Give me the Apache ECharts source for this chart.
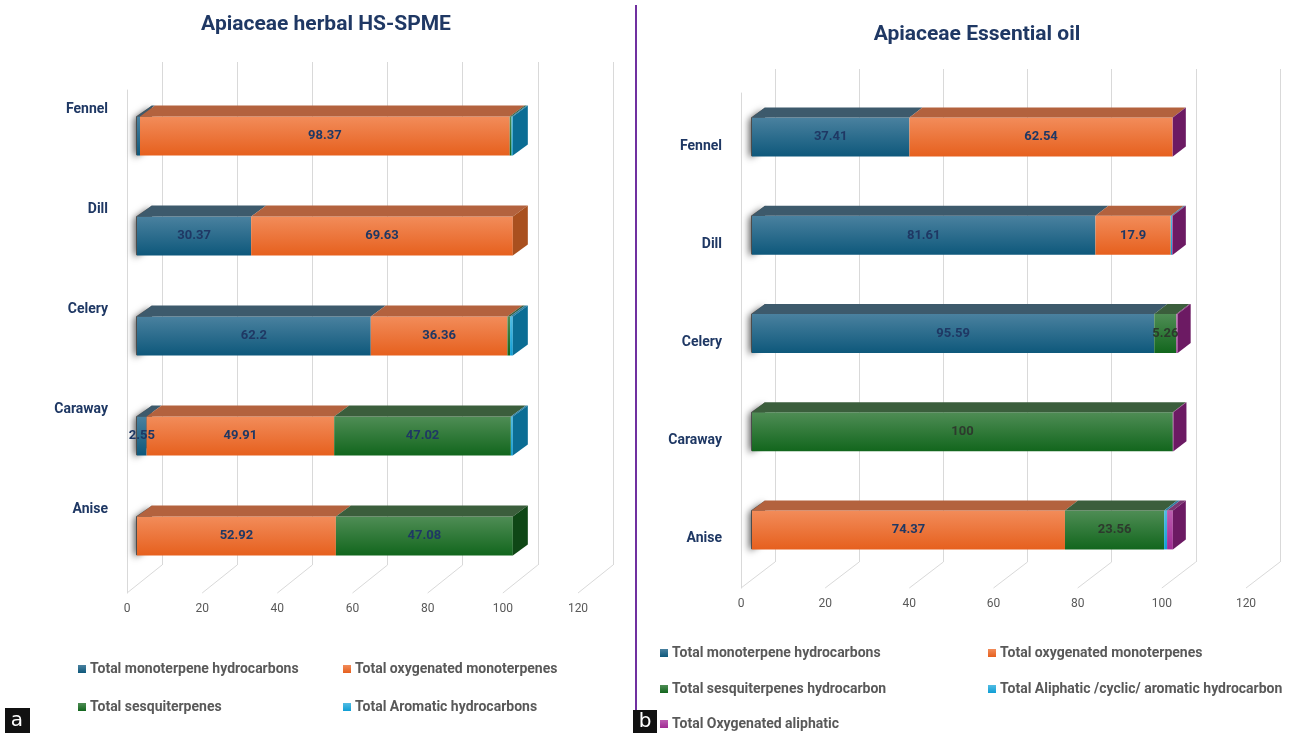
<!DOCTYPE html>
<html>
<head>
<meta charset="utf-8">
<script src="https://cdn.jsdelivr.net/npm/echarts@6/dist/echarts.min.js"></script>
<style>
  html, body { margin: 0; padding: 0; background: #fff; }
  #chart { width: 1310px; height: 733px; }
</style>
</head>
<body>
<div id="chart"></div>
<script>
  // categories and axis ticks (same for both panels)
  const categories = ['Fennel', 'Dill', 'Celery', 'Caraway', 'Anise']
  const xTicks = [0, 20, 40, 60, 80, 100, 120]

  // panel a: herbal HS-SPME
  const spmeNames = [
    'Total monoterpene hydrocarbons',
    'Total oxygenated monoterpenes',
    'Total sesquiterpenes',
    'Total Aromatic hydrocarbons',
  ]
  const spmeMono = [0.8, 30.37, 62.2, 2.55, 0]
  const spmeOxy = [98.37, 69.63, 36.36, 49.91, 52.92]
  const spmeSesq = [0.5, 0, 0.7, 47.02, 47.08]
  const spmeArom = [0.33, 0, 0.74, 0.52, 0]

  // panel b: essential oil
  const oilNames = [
    'Total monoterpene hydrocarbons',
    'Total oxygenated monoterpenes',
    'Total sesquiterpenes hydrocarbon',
    'Total Aliphatic /cyclic/ aromatic hydrocarbon',
    'Total Oxygenated aliphatic',
  ]
  const oilMono = [37.41, 81.61, 95.59, 0, 0]
  const oilOxy = [62.54, 17.9, 0, 0, 74.37]
  const oilSesq = [0, 0, 5.26, 100, 23.56]
  const oilAliph = [0, 0.3, 0, 0, 0.7]
  const oilOxAliph = [0.05, 0.19, 0.3, 0.15, 1.37]

  const shades = {
    blue: { light: '#4a819f', base: '#0e587b', top: '#3d5a6c', side: '#0c4a68' },
    orange: { light: '#f28c5a', base: '#e6601e', top: '#b3623e', side: '#a9501f' },
    green: { light: '#4f8d55', base: '#12661d', top: '#3b5e3c', side: '#0f4716' },
    cyan: { light: '#52bce3', base: '#0f9ed5', top: '#2f7fa0', side: '#0b6d94' },
    purple: { light: '#bb5db0', base: '#a02b93', top: '#7a3872', side: '#6c1a63' },
  }

  const navy = '#1f3864'
  const font = 'Roboto'

  const panels = [
    {
      title: 'Apiaceae herbal HS-SPME',
      titlePos: [321, 9],
      front: { left: 127, top: 90, width: 451, height: 503 },
      back: { left: 162, top: 62, width: 451, height: 503 },
      bars: { left: 137, top: 86, width: 451, height: 500 },
      depth: [15, -11],
      barH: 39,
      labelMargin: 29,
      // category name sits above the bar
      labelFormat: (v) => v + '\n \n \n ',
      names: spmeNames,
      values: [spmeMono, spmeOxy, spmeSesq, spmeArom],
      colors: ['blue', 'orange', 'green', 'cyan'],
      labelColors: [navy, navy, navy, navy],
      legendPos: [[78, 667], [343, 667], [78, 705], [343, 705]],
    },
    {
      title: 'Apiaceae Essential oil',
      titlePos: [972, 19],
      front: { left: 741, top: 93, width: 505, height: 495 },
      back: { left: 775, top: 69, width: 505, height: 493 },
      bars: { left: 752, top: 88, width: 505, height: 491 },
      depth: [13, -10],
      barH: 39,
      labelMargin: 30,
      // category name sits a little below the bar centre
      labelFormat: (v) => ' \n' + v,
      names: oilNames,
      values: [oilMono, oilOxy, oilSesq, oilAliph, oilOxAliph],
      colors: ['blue', 'orange', 'green', 'cyan', 'purple'],
      labelColors: [navy, navy, '#2d3a2d', navy, navy],
      legendPos: [[660, 651], [988, 651], [660, 687], [988, 687], [660, 722]],
    },
  ]

  const option = {
    animation: false,
    backgroundColor: '#fff',
    title: [],
    legend: [],
    grid: [],
    xAxis: [],
    yAxis: [],
    series: [],
    graphic: [
      { type: 'line', shape: { x1: 636, y1: 5, x2: 636, y2: 712 }, style: { stroke: '#7030a0', lineWidth: 2 } },
      { type: 'rect', shape: { x: 5, y: 708, width: 25, height: 25 }, style: { fill: '#111' } },
      { type: 'text', x: 17, y: 721, style: { text: 'a', fill: '#fff', font: '20px "DejaVu Sans"', align: 'center', verticalAlign: 'middle' } },
      { type: 'rect', shape: { x: 633, y: 710, width: 24, height: 23 }, style: { fill: '#111' } },
      { type: 'text', x: 645, y: 722, style: { text: 'b', fill: '#fff', font: '20px "DejaVu Sans"', align: 'center', verticalAlign: 'middle' } },
    ],
  }

  panels.forEach((p, pi) => {
    const g0 = pi * 3 // front plane
    const g1 = g0 + 1 // back wall
    const g2 = g0 + 2 // bar plane
    const wall = [p.back.left - p.front.left, p.back.top + p.back.height - p.front.top - p.front.height]

    option.title.push({
      text: p.title,
      left: p.titlePos[0],
      top: p.titlePos[1],
      textAlign: 'center',
      textStyle: { color: navy, fontSize: 21, fontWeight: 'bold', fontFamily: font },
    })

    option.grid.push(p.front, p.back, p.bars)

    // front plane: tick labels + left edge
    option.xAxis.push({
      gridIndex: g0, type: 'value', min: 0, max: 120, interval: 20,
      axisLine: { show: false }, axisTick: { show: false }, splitLine: { show: false },
      axisLabel: { color: '#595959', fontSize: 12, fontFamily: font, margin: 10 },
    })
    option.yAxis.push({
      gridIndex: g0, type: 'value', min: 0, max: 1,
      axisLine: { show: true, lineStyle: { color: '#d9d9d9' } },
      axisTick: { show: false }, axisLabel: { show: false }, splitLine: { show: false },
    })
    // back wall gridlines
    option.xAxis.push({
      gridIndex: g1, type: 'value', min: 0, max: 120, interval: 20,
      axisLine: { show: false }, axisTick: { show: false }, axisLabel: { show: false },
      splitLine: { show: true, lineStyle: { color: '#d9d9d9' } },
    })
    option.yAxis.push({
      gridIndex: g1, type: 'value', min: 0, max: 1, show: false,
    })
    // bar plane
    option.xAxis.push({
      gridIndex: g2, type: 'value', min: 0, max: 120, show: false,
    })
    option.yAxis.push({
      gridIndex: g2, type: 'category', inverse: true, data: categories,
      axisLine: { show: false }, axisTick: { show: false },
      axisLabel: {
        color: navy, fontSize: 14, fontWeight: 'bold', fontFamily: font,
        margin: p.labelMargin, lineHeight: 18, formatter: p.labelFormat,
      },
    })

    // floor diagonals
    option.series.push({
      type: 'custom', xAxisIndex: g0, yAxisIndex: g0, silent: true, clip: false, z: 1,
      data: xTicks.map((t) => [t, 0]),
      renderItem: (params, api) => {
        const a = api.coord([api.value(0), 0])
        return {
          type: 'line',
          shape: { x1: a[0], y1: a[1], x2: a[0] + wall[0], y2: a[1] + wall[1] },
          style: { stroke: '#d9d9d9', lineWidth: 1 },
        }
      },
    })

    // shadow along the left end of each bar
    option.series.push({
      type: 'custom', xAxisIndex: g2, yAxisIndex: g2, silent: true, clip: false, z: 2,
      encode: { x: 0, y: 1 },
      data: categories.map((c, ci) => [0, ci]),
      renderItem: (params, api) => {
        const a = api.coord([0, api.value(1)])
        const h = p.barH / 2
        const [dx, dy] = p.depth
        return {
          type: 'polygon',
          shape: { points: [[a[0] - 1, a[1] - h], [a[0] + dx, a[1] - h + dy], [a[0] + dx, a[1] + h + dy], [a[0] - 1, a[1] + h]] },
          style: { fill: 'rgba(70,70,70,0.9)', shadowBlur: 7, shadowColor: 'rgba(0,0,0,0.7)', shadowOffsetX: -2, shadowOffsetY: 2 },
        }
      },
    })

    // front faces
    p.names.forEach((name, k) => {
      const c = shades[p.colors[k]]
      option.series.push({
        name, type: 'bar', stack: 'total' + pi, xAxisIndex: g2, yAxisIndex: g2,
        barWidth: p.barH, z: 3,
        itemStyle: {
          color: new echarts.graphic.LinearGradient(0, 0, 0, 1, [
            { offset: 0, color: c.light },
            { offset: 1, color: c.base },
          ]),
        },
        label: {
          show: true, position: 'inside', color: p.labelColors[k],
          fontSize: 13, fontWeight: 'bold', fontFamily: font,
          formatter: (d) => (d.value >= 2 ? d.value : ''),
        },
        data: p.values[k],
      })
    })

    // top faces of each segment
    const tops = []
    p.values.forEach((arr, k) => {
      arr.forEach((v, ci) => {
        if (v > 0) {
          const s = p.values.slice(0, k).reduce((acc, a) => acc + a[ci], 0)
          tops.push([s, s + v, ci, k])
        }
      })
    })
    option.series.push({
      type: 'custom', xAxisIndex: g2, yAxisIndex: g2, silent: true, clip: false, z: 4,
      encode: { x: [0, 1], y: 2 },
      data: tops,
      renderItem: (params, api) => {
        const a = api.coord([api.value(0), api.value(2)])
        const b = api.coord([api.value(1), api.value(2)])
        const y = a[1] - p.barH / 2
        const [dx, dy] = p.depth
        return {
          type: 'polygon',
          shape: { points: [[a[0], y], [b[0], y], [b[0] + dx, y + dy], [a[0] + dx, y + dy]] },
          style: { fill: shades[p.colors[api.value(3)]].top },
        }
      },
    })

    // right side face (colour of the last non-zero segment)
    const sides = categories.map((cat, ci) => {
      let total = 0
      let last = 0
      p.values.forEach((arr, k) => {
        total += arr[ci]
        if (arr[ci] > 0) last = k
      })
      return [total, ci, last]
    })
    option.series.push({
      type: 'custom', xAxisIndex: g2, yAxisIndex: g2, silent: true, clip: false, z: 4,
      encode: { x: 0, y: 1 },
      data: sides,
      renderItem: (params, api) => {
        const a = api.coord([api.value(0), api.value(1)])
        const h = p.barH / 2
        const [dx, dy] = p.depth
        return {
          type: 'polygon',
          shape: { points: [[a[0], a[1] - h], [a[0] + dx, a[1] - h + dy], [a[0] + dx, a[1] + h + dy], [a[0], a[1] + h]] },
          style: { fill: shades[p.colors[api.value(2)]].side },
        }
      },
    })

    // legend, one entry each so the two-column layout is kept
    p.names.forEach((name, k) => {
      option.legend.push({
        data: [name],
        left: p.legendPos[k][0],
        top: p.legendPos[k][1] - 5,
        padding: 0,
        icon: 'rect', itemWidth: 8, itemHeight: 8, itemGap: 4,
        selectedMode: false,
        textStyle: { color: '#595959', fontSize: 14, fontWeight: 'bold', fontFamily: font, padding: [0, 0, 0, -1] },
      })
    })
  })

  const chart = echarts.init(document.getElementById('chart'))
  chart.setOption(option)
</script>
</body>
</html>
